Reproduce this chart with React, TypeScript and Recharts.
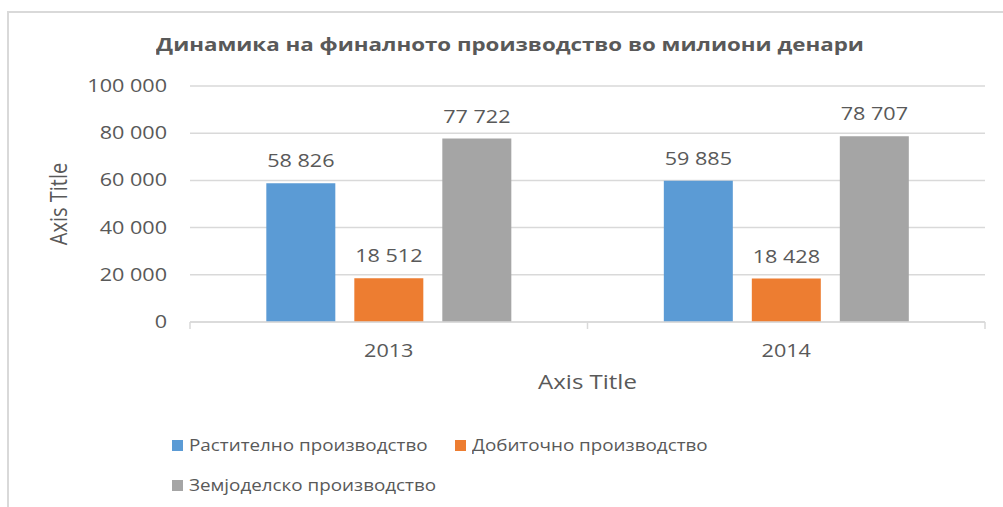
import React from 'react';
import { BarChart, Bar, XAxis, YAxis, CartesianGrid, LabelList, Legend, Label } from 'recharts';

const years = ['2013', '2014'];
const cropValues = [58826, 59885];
const livestockValues = [18512, 18428];
const agriValues = [77722, 78707];
const yTicks = [0, 20000, 40000, 60000, 80000, 100000];
const seriesKeys = ['crop', 'livestock', 'agri'];
const seriesNames = ['Растително производство', 'Добиточно производство', 'Земјоделско производство'];
const seriesColors = ['#5b9bd5', '#ed7d31', '#a5a5a5'];
const chartTitle = 'Динамика на финалното производство во милиони денари';
const xTitle = 'Axis Title';
const yTitle = 'Axis Title';

const data = years.map((year, i) => ({
  year,
  crop: cropValues[i],
  livestock: livestockValues[i],
  agri: agriValues[i],
}));

// the source picture is stretched sideways, so text is scaled the same way
const SX = 1.2;
const FONT = '"Open Sans", sans-serif';
const TEXT = '#595959';
const LINE = '#d9d9d9';

const fmt = (v: number) => String(v).replace(/\B(?=(\d{3})+(?!\d))/g, ' ');

const StretchText = ({ x, y, anchor = 'middle', size = 18, rotate = 0, weight = 400, children }: any) => (
  <g transform={`translate(${x},${y}) scale(${SX},1)${rotate ? ` rotate(${rotate})` : ''}`}>
    <text x={0} y={0} textAnchor={anchor} fontSize={size} fontWeight={weight} fill={TEXT} fontFamily={FONT}>
      {children}
    </text>
  </g>
);

const YTick = ({ x, y, payload }: any) => (
  <StretchText x={x} y={y + 6} anchor="end">{fmt(payload.value)}</StretchText>
);

// category label plus the small tick marks on the band edges
const XTick = ({ x, y, payload, index }: any) => {
  const half = payload.offset || 0;
  const last = index === years.length - 1;
  return (
    <g>
      <line x1={x - half} x2={x - half} y1={y} y2={y + 7} stroke={LINE} strokeWidth={1.5} />
      {last && <line x1={x + half} x2={x + half} y1={y} y2={y + 7} stroke={LINE} strokeWidth={1.5} />}
      <StretchText x={x} y={y + 35}>{payload.value}</StretchText>
    </g>
  );
};

const ValueLabel = ({ x, y, width, value }: any) => (
  <StretchText x={x + width / 2} y={y - 16}>{fmt(value)}</StretchText>
);

const renderLegend = ({ payload }: any) => {
  const items = [...(payload || [])].sort(
    (a: any, b: any) => seriesNames.indexOf(a.value) - seriesNames.indexOf(b.value)
  );
  return (
    <div style={{ display: 'grid', gridTemplateColumns: '283px 300px', rowGap: 18, fontFamily: FONT }}>
      {items.map((item: any) => (
        <div key={item.value} style={{ display: 'flex', alignItems: 'center', height: 22 }}>
          <span style={{ width: 11, height: 11, background: item.color, marginRight: 6, flex: 'none' }} />
          <span style={{ fontSize: 15.7, color: TEXT, whiteSpace: 'nowrap', transform: `scaleX(${SX})`, transformOrigin: 'left center' }}>
            {item.value}
          </span>
        </div>
      ))}
    </div>
  );
};

export default function App() {
  return (
    <div style={{ position: 'absolute', left: 0, top: 0, width: 1003, height: 507, overflow: 'hidden', background: '#fff' }}>
      <div style={{ position: 'absolute', left: 7, top: 11, width: 1100, height: 600, border: `2px solid ${LINE}` }} />
      <div
        style={{
          position: 'absolute', left: 0, top: 31, width: 1020, textAlign: 'center',
          fontFamily: FONT, fontSize: 18.6, fontWeight: 700, color: TEXT,
          transform: `scaleX(${SX})`, transformOrigin: '510px 0', whiteSpace: 'nowrap',
        }}
      >
        {chartTitle}
      </div>
      <div style={{ position: 'absolute', left: 0, top: 0 }}>
        <BarChart
          width={1003}
          height={507}
          data={data}
          margin={{ top: 86, right: 18, bottom: 115, left: 0 }}
          barCategoryGap="19.2%"
          barGap={19}
        >
          <CartesianGrid vertical={false} stroke={LINE} strokeWidth={1.5} />
          <XAxis
            dataKey="year"
            height={70}
            tickLine={false}
            tickSize={0}
            tickMargin={0}
            axisLine={{ stroke: LINE, strokeWidth: 1.5 }}
            tick={<XTick />}
          >
            <Label
              content={({ viewBox }: any) => (
                <StretchText x={viewBox.x + viewBox.width / 2} y={viewBox.y + 67} size={20}>{xTitle}</StretchText>
              )}
            />
          </XAxis>
          <YAxis
            width={190}
            domain={[0, 100000]}
            ticks={yTicks}
            axisLine={false}
            tickLine={false}
            tickSize={0}
            tickMargin={23}
            tick={<YTick />}
          >
            <Label
              content={({ viewBox }: any) => (
                <StretchText x={viewBox.x + 67} y={viewBox.y + viewBox.height / 2} size={20} rotate={-90}>{yTitle}</StretchText>
              )}
            />
          </YAxis>
          <Legend
            layout="horizontal"
            verticalAlign="middle"
            align="center"
            wrapperStyle={{ left: 172, top: 434, width: 620 }}
            content={renderLegend}
          />
          {seriesKeys.map((key, i) => (
            <Bar key={key} dataKey={key} name={seriesNames[i]} fill={seriesColors[i]} isAnimationActive={false}>
              <LabelList dataKey={key} content={<ValueLabel />} />
            </Bar>
          ))}
        </BarChart>
      </div>
    </div>
  );
}
